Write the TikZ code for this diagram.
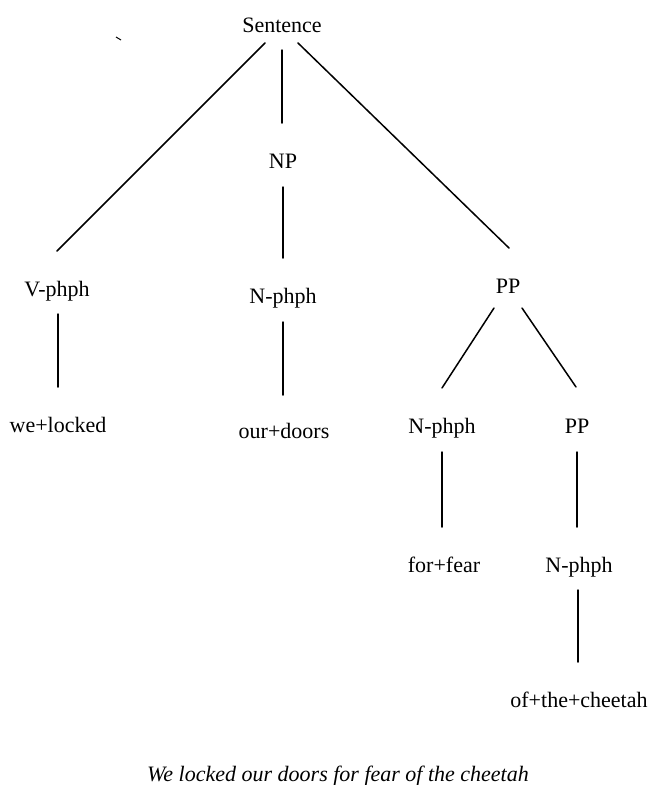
\documentclass[tikz,border=0pt]{standalone}
\usepackage{fontspec}
\setmainfont{Liberation Serif}
\usetikzlibrary{calc}
\tikzset{
  lbl/.style={anchor=base, inner sep=0pt, font=\fontsize{22}{26}\selectfont},
  captxt/.style={anchor=base, inner sep=0pt, font=\fontsize{22}{26}\selectfont\itshape},
  edge/.style={line width=1.5pt, line cap=round}
}
\begin{document}
\begin{tikzpicture}[x=1pt,y=-1pt]
\useasboundingbox[fill=white] (0,0) rectangle (650,785);
% nodes (anchored on the text baseline)
\node[lbl] (S)   at (282,32)  {Sentence};
\node[lbl] (NP)  at (283,168) {NP};
\node[lbl] (V)   at (57,296)  {V-phph};
\node[lbl] (N1)  at (283,303) {N-phph};
\node[lbl] (PP)  at (508,293) {PP};
\node[lbl] (we)  at (58,432)  {we+locked};
\node[lbl] (our) at (284,438) {our+doors};
\node[lbl] (N2)  at (442,433) {N-phph};
\node[lbl] (PP2) at (577,433) {PP};
\node[lbl] (ff)  at (444,572) {for+fear};
\node[lbl] (N3)  at (579,572) {N-phph};
\node[lbl] (ch)  at (579,707) {of+the+cheetah};
\node[captxt] (cp) at (338,781) {We locked our doors for fear of the cheetah};
% connectors
\draw[edge] ($(S.base)+(-17,11)$) -- ($(V.base)+(0,-45)$);
\draw[edge] ($(S.base)+(0,18)$)   -- ($(NP.base)+(-1,-45)$);
\draw[edge] ($(S.base)+(16,11)$)  -- ($(PP.base)+(1,-45)$);
\draw[edge] ($(NP.base)+(0,19)$)  -- ($(N1.base)+(0,-45)$);
\draw[edge] ($(V.base)+(1,18)$)   -- ($(we.base)+(0,-45)$);
\draw[edge] ($(N1.base)+(0,19)$)  -- ($(our.base)+(-1,-43)$);
\draw[edge] ($(PP.base)+(-14,15)$) -- ($(N2.base)+(0,-45)$);
\draw[edge] ($(PP.base)+(14,15)$)  -- ($(PP2.base)+(-1,-46)$);
\draw[edge] ($(N2.base)+(0,19)$)  -- ($(ff.base)+(-2,-45)$);
\draw[edge] ($(PP2.base)+(0,19)$) -- ($(N3.base)+(-2,-45)$);
\draw[edge] ($(N3.base)+(-1,18)$) -- ($(ch.base)+(-1,-45)$);
% small scan mark
\draw[line width=1pt] (116,37) -- (121,40);
\end{tikzpicture}
\end{document}
